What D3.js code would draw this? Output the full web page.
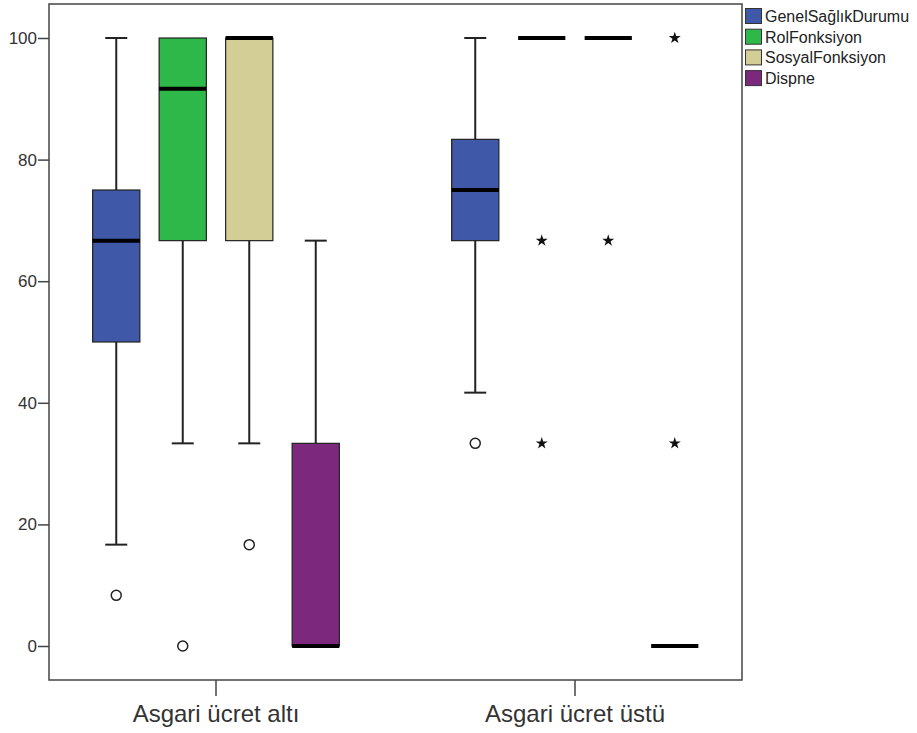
<!DOCTYPE html>
<html>
<head>
<meta charset="utf-8">
<script src="https://cdn.jsdelivr.net/npm/d3@7"></script>
<style>
  body { margin: 0; background: #fff; }
  svg { font-family: "Liberation Sans", Arial, sans-serif; }
</style>
</head>
<body>
<svg id="chart" width="917" height="733"></svg>
<script>
// Groups on the x axis and the four series
const groups = ["Asgari ücret altı", "Asgari ücret üstü"];
const series = ["GenelSağlıkDurumu", "RolFonksiyon", "SosyalFonksiyon", "Dispne"];
const colors = ["#3f58a8", "#2fb84a", "#d3ce96", "#7b287d"];
const yTicks = [0, 20, 40, 60, 80, 100];

// Box stats per group: [whiskerLow, q1, median, q3, whiskerHigh]
const statsAlti = [
  [16.67, 50, 66.67, 75, 100],
  [33.33, 66.67, 91.67, 100, 100],
  [33.33, 66.67, 100, 100, 100],
  [0, 0, 0, 33.33, 66.67]
];
const statsUstu = [
  [41.67, 66.67, 75, 83.33, 100],
  [100, 100, 100, 100, 100],
  [100, 100, 100, 100, 100],
  [0, 0, 0, 0, 0]
];
// Outliers (circles) and extremes (stars), per series
const outAlti = [[8.33], [0], [16.67], []];
const extAlti = [[], [], [], []];
const outUstu = [[33.33], [], [], []];
const extUstu = [[], [66.67, 33.33], [66.67], [100, 33.33]];

const stats = [statsAlti, statsUstu];
const outliers = [outAlti, outUstu];
const extremes = [extAlti, extUstu];

const svg = d3.select("#chart");
const plot = { left: 49, right: 742, top: 4, bottom: 680 };

const y = d3.scaleLinear().domain([0, 100]).range([646, 38]);
const x = d3.scaleBand().domain(groups).range([36.5, 754.5]);
const xs = d3.scaleBand().domain(series).range([-133, 133]).paddingInner(0.29).paddingOuter(0.145);

// frame
svg.append("rect")
  .attr("x", plot.left).attr("y", plot.top)
  .attr("width", plot.right - plot.left).attr("height", plot.bottom - plot.top)
  .attr("fill", "none").attr("stroke", "#444").attr("stroke-width", 1.5);

// y axis
const yAxis = svg.append("g")
  .attr("transform", `translate(${plot.left},0)`)
  .call(d3.axisLeft(y).tickValues(yTicks).tickSize(11).tickPadding(1));
yAxis.select(".domain").remove();
yAxis.selectAll("line").attr("stroke", "#444").attr("stroke-width", 1.5);
yAxis.selectAll("text").attr("font-size", 17).attr("fill", "#333")
  .attr("font-family", "Liberation Sans, Arial, sans-serif");

// x axis
const xAxis = svg.append("g")
  .attr("transform", `translate(0,${plot.bottom})`)
  .call(d3.axisBottom(x).tickSize(16));
xAxis.select(".domain").remove();
xAxis.selectAll("line").attr("stroke", "#444").attr("stroke-width", 1.5);
xAxis.selectAll("text").attr("font-size", 24).attr("fill", "#333")
  .attr("y", 42).attr("dy", null)
  .attr("font-family", "Liberation Sans, Arial, sans-serif");

const star = d3.symbol().type(d3.symbolStar).size(45);

groups.forEach((g, gi) => {
  series.forEach((s, si) => {
    const [lo, q1, med, q3, hi] = stats[gi][si];
    const cx = x(g) + x.bandwidth() / 2;
    const bx = cx + xs(s);
    const bw = xs.bandwidth();
    const mid = bx + bw / 2;
    const grp = svg.append("g");

    if (q3 > q1) {
      // whiskers
      grp.append("line").attr("x1", mid).attr("x2", mid)
        .attr("y1", y(hi)).attr("y2", y(q3)).attr("stroke", "#222").attr("stroke-width", 2);
      grp.append("line").attr("x1", mid).attr("x2", mid)
        .attr("y1", y(q1)).attr("y2", y(lo)).attr("stroke", "#222").attr("stroke-width", 2);
      if (hi > q3) grp.append("line").attr("x1", mid - 11).attr("x2", mid + 11)
        .attr("y1", y(hi)).attr("y2", y(hi)).attr("stroke", "#222").attr("stroke-width", 2);
      if (lo < q1) grp.append("line").attr("x1", mid - 11).attr("x2", mid + 11)
        .attr("y1", y(lo)).attr("y2", y(lo)).attr("stroke", "#222").attr("stroke-width", 2);
      grp.append("rect").attr("x", bx).attr("y", y(q3))
        .attr("width", bw).attr("height", y(q1) - y(q3))
        .attr("fill", colors[si]).attr("stroke", "#222").attr("stroke-width", 1.2);
    }
    // median
    grp.append("line").attr("x1", bx).attr("x2", bx + bw)
      .attr("y1", y(med)).attr("y2", y(med)).attr("stroke", "#000").attr("stroke-width", 4);

    outliers[gi][si].forEach(v => {
      grp.append("circle").attr("cx", mid).attr("cy", y(v)).attr("r", 5)
        .attr("fill", "#fff").attr("stroke", "#222").attr("stroke-width", 1.5);
    });
    extremes[gi][si].forEach(v => {
      grp.append("path").attr("d", star).attr("transform", `translate(${mid},${y(v)})`)
        .attr("fill", "#111");
    });
  });
});

// legend
const legend = svg.append("g").attr("transform", "translate(745,8)");
series.forEach((s, i) => {
  const row = legend.append("g").attr("transform", `translate(0,${i * 20.7})`);
  row.append("rect").attr("x", 0.5).attr("y", 0.5).attr("width", 16).attr("height", 15)
    .attr("fill", colors[i]).attr("stroke", "#333").attr("stroke-width", 1);
  row.append("text").attr("x", 20).attr("y", 14).attr("font-size", 16)
    .attr("fill", "#222").text(s);
});
</script>
</body>
</html>
